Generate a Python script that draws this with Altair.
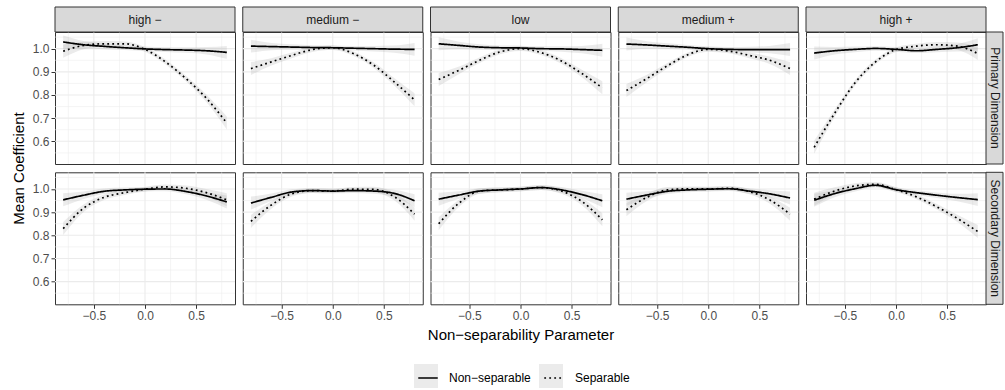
import altair as alt
import pandas as pd

# ---------------- data ----------------
X = [-0.8, -0.6, -0.4, -0.2, 0.0, 0.2, 0.4, 0.6, 0.8]
COLUMNS = ["high −", "medium −", "low", "medium +", "high +"]
ROWS = ["Primary Dimension", "Secondary Dimension"]
SERIES = ["Non−separable", "Separable"]

# Primary Dimension (non-separable / separable)
P1_NS = [1.029, 1.017, 1.010, 1.004, 0.999, 0.996, 0.994, 0.991, 0.984]
P1_S = [0.989, 1.014, 1.021, 1.021, 0.997, 0.943, 0.871, 0.786, 0.679]
P2_NS = [1.011, 1.009, 1.007, 1.005, 1.004, 1.002, 1.000, 0.998, 0.997]
P2_S = [0.914, 0.943, 0.971, 0.996, 1.004, 0.979, 0.929, 0.857, 0.779]
P3_NS = [1.021, 1.014, 1.007, 1.004, 1.003, 1.000, 0.999, 0.996, 0.993]
P3_S = [0.867, 0.907, 0.950, 0.986, 1.000, 0.983, 0.947, 0.893, 0.831]
P4_NS = [1.020, 1.016, 1.011, 1.006, 1.000, 0.997, 0.996, 0.996, 0.996]
P4_S = [0.819, 0.871, 0.926, 0.974, 0.997, 0.990, 0.971, 0.950, 0.914]
P5_NS = [0.981, 0.991, 0.997, 1.001, 0.997, 0.991, 0.997, 1.004, 1.017]
P5_S = [0.574, 0.721, 0.853, 0.943, 0.996, 1.011, 1.017, 1.011, 0.979]

# Secondary Dimension (non-separable / separable)
S1_NS = [0.953, 0.973, 0.990, 0.996, 0.999, 1.000, 0.989, 0.970, 0.944]
S1_S = [0.829, 0.917, 0.964, 0.984, 0.999, 1.009, 1.003, 0.984, 0.953]
S2_NS = [0.939, 0.964, 0.987, 0.993, 0.991, 0.993, 0.991, 0.981, 0.949]
S2_S = [0.860, 0.931, 0.979, 0.993, 0.991, 0.999, 0.998, 0.967, 0.891]
S3_NS = [0.956, 0.974, 0.991, 0.996, 1.000, 1.006, 0.996, 0.976, 0.949]
S3_S = [0.850, 0.939, 0.991, 0.996, 1.000, 1.006, 0.991, 0.946, 0.867]
S4_NS = [0.956, 0.974, 0.990, 0.996, 0.999, 1.001, 0.991, 0.979, 0.961]
S4_S = [0.910, 0.964, 0.996, 1.001, 1.000, 1.003, 0.989, 0.953, 0.891]
S5_NS = [0.951, 0.980, 1.001, 1.016, 0.997, 0.984, 0.973, 0.963, 0.954]
S5_S = [0.956, 0.991, 1.013, 1.020, 0.997, 0.966, 0.923, 0.873, 0.816]

# half width of the grey confidence band
HALF_BAND = [0.028, 0.016, 0.012, 0.010, 0.010, 0.010, 0.012, 0.016, 0.028]

X_MAJOR = [-0.5, 0.0, 0.5]
X_MINOR = [-0.75, -0.25, 0.25, 0.75]
Y_MAJOR = [0.6, 0.7, 0.8, 0.9, 1.0]
Y_MINOR = [0.55, 0.65, 0.75, 0.85, 0.95, 1.05]

PANEL_SERIES = {
    (0, 0): (P1_NS, P1_S), (0, 1): (P2_NS, P2_S), (0, 2): (P3_NS, P3_S),
    (0, 3): (P4_NS, P4_S), (0, 4): (P5_NS, P5_S),
    (1, 0): (S1_NS, S1_S), (1, 1): (S2_NS, S2_S), (1, 2): (S3_NS, S3_S),
    (1, 3): (S4_NS, S4_S), (1, 4): (S5_NS, S5_S),
}

# ---------------- layout / style ----------------
W, H = 180, 132
XDOM = [-0.88, 0.88]
YDOM = [0.502, 1.072]
FONT = "Liberation Sans"
GRID = "#EBEBEB"
LEG_X, LEG_Y = 362, 335


def x_axis(show, title=None):
    kw = dict(values=X_MAJOR, grid=False, domain=False, labels=show,
              ticks=show, format=".1f", labelFlush=False,
              labelOverlap=False, title=title)
    if title:
        kw.update(titleX=W / 2, titleY=35, titleBaseline="alphabetic",
                  titleAlign="center", titleAnchor="middle")
    return alt.Axis(**kw)


def y_axis(show, title=None):
    kw = dict(values=Y_MAJOR, grid=False, domain=False, labels=show,
              ticks=show, format=".1f", labelFlush=False,
              labelOverlap=False, title=title)
    if title:
        kw.update(titleX=-32, titleY=H + 4, titleAngle=270,
                  titleBaseline="alphabetic", titleAlign="center")
    return alt.Axis(**kw)


def panel(r, c):
    ns, s = PANEL_SERIES[(r, c)]
    recs = []
    for name, vals in zip(SERIES, (ns, s)):
        for xv, yv, hw in zip(X, vals, HALF_BAND):
            recs.append({"x": xv, "y": yv, "lo": yv - hw, "hi": yv + hw,
                         "series": name})
    df = pd.DataFrame(recs)

    xtitle = "Non−separability Parameter" if (r == 1 and c == 2) else None
    ytitle = "Mean Coefficient" if (r == 0 and c == 0) else None
    xs = alt.Scale(domain=XDOM, nice=False, zero=False)
    ys = alt.Scale(domain=YDOM, nice=False, zero=False)
    xa = x_axis(r == 1, xtitle)
    ya = y_axis(c == 0, ytitle)

    def gx(vals, width):
        return alt.Chart(pd.DataFrame({"v": vals})).mark_rule(
            color=GRID, strokeWidth=width).encode(
            x=alt.X("v:Q", scale=xs, axis=xa))

    def gy(vals, width):
        return alt.Chart(pd.DataFrame({"v": vals})).mark_rule(
            color=GRID, strokeWidth=width).encode(
            y=alt.Y("v:Q", scale=ys, axis=ya))

    base = alt.Chart(df)
    band = base.mark_area(interpolate="monotone", fill="#999999",
                          opacity=0.2).encode(
        x=alt.X("x:Q", scale=xs, axis=xa),
        y=alt.Y("lo:Q", scale=ys, axis=ya),
        y2="hi:Q",
        detail="series:N",
    )
    line = base.mark_line(interpolate="monotone", color="black",
                          strokeWidth=1.7, strokeCap="butt").encode(
        x=alt.X("x:Q", scale=xs, axis=xa),
        y=alt.Y("y:Q", scale=ys, axis=ya),
        strokeDash=alt.StrokeDash(
            "series:N",
            scale=alt.Scale(domain=SERIES, range=[[1, 0], [1.8, 3.2]]),
            legend=alt.Legend(
                title=None, orient="none", direction="horizontal",
                legendX=LEG_X, legendY=LEG_Y, symbolType="stroke",
                symbolSize=380, symbolStrokeWidth=1.7,
                symbolStrokeColor="black", labelOffset=10,
                columnPadding=9, labelFont=FONT, labelFontSize=12,
                labelColor="black",
            ),
        ),
    )
    layers = [gx(X_MINOR, 0.55), gy(Y_MINOR, 0.55),
              gx(X_MAJOR, 1.1), gy(Y_MAJOR, 1.1), band, line]

    if r == 0:
        sd = alt.Data(values=[{"lab": COLUMNS[c]}])
        layers.append(alt.Chart(sd).mark_rect(
            fill="#D9D9D9", stroke="#333333", strokeWidth=1).encode(
            x=alt.value(0), x2=alt.value(W), y=alt.value(-25), y2=alt.value(0)))
        layers.append(alt.Chart(sd).mark_text(
            font=FONT, fontSize=12, color="#1A1A1A").encode(
            x=alt.value(W / 2), y=alt.value(-12.5), text="lab:N"))
    if c == 4:
        sd = alt.Data(values=[{"lab": ROWS[r]}])
        layers.append(alt.Chart(sd).mark_rect(
            fill="#D9D9D9", stroke="#333333", strokeWidth=1).encode(
            x=alt.value(W), x2=alt.value(W + 17), y=alt.value(0), y2=alt.value(H)))
        layers.append(alt.Chart(sd).mark_text(
            font=FONT, fontSize=12, color="#1A1A1A", angle=90).encode(
            x=alt.value(W + 8.5), y=alt.value(H / 2), text="lab:N"))
    if r == 1 and c == 2:
        # light grey key backgrounds behind the legend symbols (as in ggplot)
        kd = alt.Data(values=[{"k": s} for s in SERIES])
        ox = -(W + 7.75) * 2  # panel offset relative to the layout origin
        oy = -(H + 8.3)
        for i, dx in enumerate([0, 125]):
            layers.append(alt.Chart(alt.Data(values=[{"k": SERIES[i]}])).mark_rect(
                fill="#EBEBEB").encode(
                x=alt.value(LEG_X + ox - 3 + dx), x2=alt.value(LEG_X + ox + 21 + dx),
                y=alt.value(LEG_Y + oy - 3), y2=alt.value(LEG_Y + oy + 21)))

    return alt.layer(*layers).properties(width=W, height=H)


panels = [panel(r, c) for r in range(2) for c in range(5)]

chart = alt.ConcatChart(
    concat=panels, columns=5,
    spacing=alt.RowColnumber(row=8.3, column=7.75),
    bounds="flush",
).resolve_scale(strokeDash="shared").configure(
    padding={"left": 10, "top": 6, "right": 0, "bottom": 0},
    background="white",
).configure_view(
    stroke="#333333", strokeWidth=1, fill="white",
).configure_axis(
    labelFont=FONT, labelFontSize=12, labelColor="#4D4D4D",
    tickColor="#333333", tickSize=4, tickWidth=1, labelPadding=2,
    titleFont=FONT, titleFontSize=15, titleColor="black",
    titleFontWeight="normal",
)

chart.save("out.html", embed_options={"renderer": "svg", "actions": False})
